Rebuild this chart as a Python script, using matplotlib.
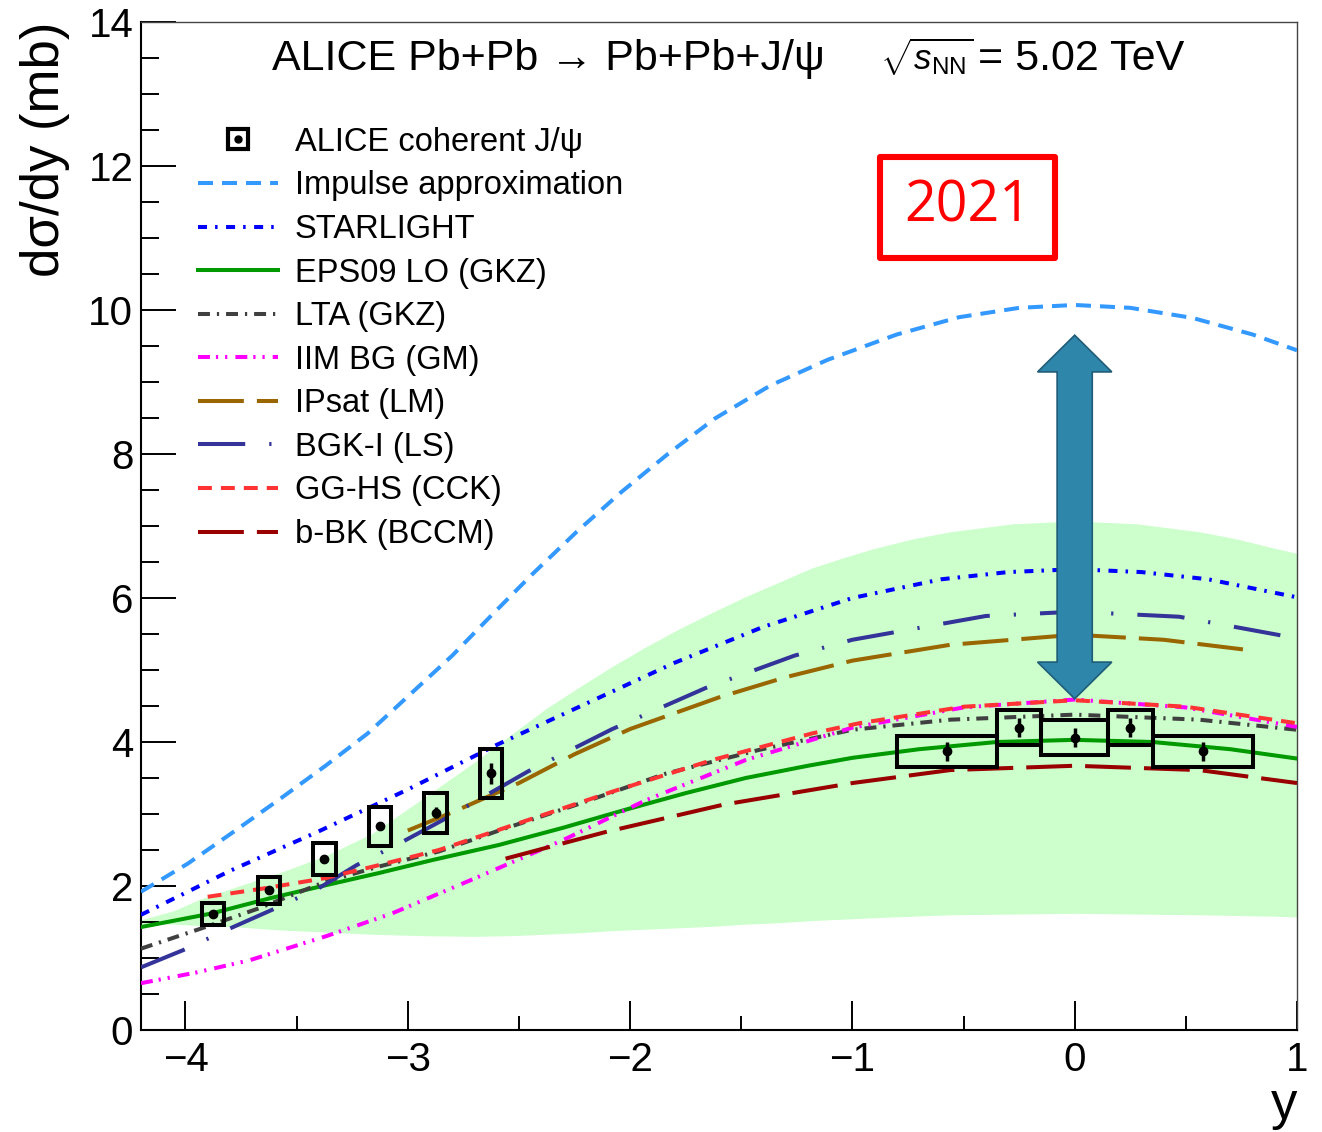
import numpy as np
import matplotlib
matplotlib.use("Agg")
import matplotlib.pyplot as plt
from matplotlib.lines import Line2D
from matplotlib.patches import Rectangle, Polygon
from matplotlib.ticker import MultipleLocator

plt.rcParams['font.family'] = ['Liberation Sans', 'DejaVu Sans']
plt.rcParams['mathtext.fontset'] = 'custom'
plt.rcParams['mathtext.rm'] = 'Liberation Sans'
plt.rcParams['mathtext.it'] = 'Liberation Sans:italic'
plt.rcParams['mathtext.bf'] = 'Liberation Sans:bold'
plt.rcParams['lines.scale_dashes'] = False

# ---------------- data ----------------
# ALICE coherent J/psi (forward)
fwd_y = [-3.875, -3.625, -3.375, -3.125, -2.875, -2.625]
fwd_val = [1.615, 1.938, 2.377, 2.831, 3.018, 3.565]
fwd_stat = [0.05, 0.05, 0.05, 0.06, 0.08, 0.15]
fwd_syst = [0.15, 0.185, 0.225, 0.27, 0.28, 0.34]
fwd_hw = [0.05, 0.05, 0.05, 0.05, 0.05, 0.05]
# ALICE coherent J/psi (central)
cen_y = [-0.575, -0.25, 0.0, 0.25, 0.575]
cen_val = [3.87, 4.20, 4.06, 4.20, 3.87]
cen_stat = [0.13, 0.13, 0.13, 0.13, 0.13]
cen_syst = [0.22, 0.24, 0.245, 0.24, 0.22]
cen_hw = [0.225, 0.10, 0.15, 0.10, 0.225]

# Impulse approximation
ia_x = [-4.2, -3.99, -3.78, -3.57, -3.37, -3.18, -2.99, -2.80, -2.62, -2.44, -2.24, -2.04,
        -1.83, -1.62, -1.37, -1.11, -0.8, -0.52, -0.25, 0.0, 0.25, 0.53, 0.8, 1.0]
ia_v = [1.92, 2.31, 2.76, 3.22, 3.67, 4.12, 4.66, 5.20, 5.77, 6.33, 6.92, 7.47,
        8.00, 8.49, 8.95, 9.31, 9.66, 9.90, 10.03, 10.07, 10.03, 9.89, 9.66, 9.44]
# STARLIGHT
sl_x = [-4.2, -3.8, -3.4, -3.0, -2.6, -2.2, -1.8, -1.4, -1.0, -0.6, -0.3, 0.0, 0.3, 0.6, 1.0]
sl_v = [1.60, 2.21, 2.76, 3.34, 3.96, 4.53, 5.10, 5.60, 6.00, 6.26, 6.36, 6.40, 6.36, 6.26, 6.01]
# EPS09 LO (GKZ)
eps_x = [-4.2, -3.88, -3.62, -3.37, -3.13, -2.89, -2.59, -2.3, -2.02, -1.75, -1.48, -1.2,
         -1.0, -0.7, -0.35, 0.0, 0.35, 0.7, 1.0]
eps_v = [1.43, 1.62, 1.83, 2.01, 2.18, 2.36, 2.57, 2.81, 3.06, 3.29, 3.50, 3.67,
         3.78, 3.90, 4.00, 4.03, 4.00, 3.90, 3.77]
# EPS09 uncertainty band
band_x = [-4.2, -4.05, -3.94, -3.76, -3.58, -3.37, -3.16, -2.93, -2.7, -2.54, -2.38, -2.23,
          -2.08, -1.93, -1.78, -1.63, -1.48, -1.33, -1.18, -1.04, -0.9, -0.73, -0.56,
          -0.28, 0.0, 0.28, 0.56, 0.73, 0.9, 1.0]
band_hi = [1.53, 1.66, 1.81, 2.00, 2.18, 2.42, 2.73, 3.22, 3.72, 4.09, 4.46, 4.76,
           5.05, 5.32, 5.57, 5.80, 6.02, 6.22, 6.42, 6.56, 6.69, 6.82, 6.92,
           7.03, 7.07, 7.03, 6.92, 6.82, 6.69, 6.62]
band_lo = [1.48, 1.47, 1.45, 1.43, 1.39, 1.36, 1.33, 1.31, 1.30, 1.31, 1.33, 1.35,
           1.38, 1.40, 1.42, 1.44, 1.47, 1.49, 1.52, 1.54, 1.56, 1.58, 1.60,
           1.61, 1.62, 1.61, 1.60, 1.59, 1.58, 1.57]
# LTA (GKZ)
lta_x = [-4.2, -3.91, -3.67, -3.37, -3.13, -2.86, -2.59, -2.24, -1.84, -1.42, -1.0, -0.56, 0.0, 0.56, 1.0]
lta_v = [1.13, 1.43, 1.69, 2.06, 2.27, 2.48, 2.77, 3.13, 3.56, 3.89, 4.17, 4.31, 4.38, 4.31, 4.17]
# IIM BG (GM)
iim_x = [-4.2, -3.95, -3.71, -3.37, -3.07, -2.68, -2.30, -1.93, -1.48, -1.0, -0.5, 0.0, 0.5, 1.0]
iim_v = [0.65, 0.80, 0.97, 1.30, 1.62, 2.13, 2.64, 3.19, 3.75, 4.20, 4.48, 4.59, 4.48, 4.21]
# IPsat (LM)
ips_x = [-3.0, -2.81, -2.5, -2.25, -2.0, -1.6, -1.3, -1.0, -0.56, 0.0, 0.4, 0.8]
ips_v = [2.77, 3.01, 3.43, 3.83, 4.18, 4.62, 4.90, 5.13, 5.35, 5.49, 5.42, 5.27]
# BGK-I (LS)
bgk_x = [-4.2, -4.01, -3.80, -3.61, -3.40, -3.23, -3.02, -2.84, -2.46, -2.08, -1.66, -1.26,
         -1.0, -0.4, 0.0, 0.47, 1.0]
bgk_v = [0.87, 1.11, 1.41, 1.67, 1.97, 2.29, 2.62, 2.92, 3.59, 4.18, 4.75, 5.20,
         5.42, 5.75, 5.81, 5.74, 5.44]
# GG-HS (CCK)
cck_x = [-3.90, -3.64, -3.37, -3.13, -2.86, -2.59, -2.08, -1.63, -1.18, -0.97, -0.5, 0.0, 0.5, 1.0]
cck_v = [1.85, 1.97, 2.11, 2.29, 2.50, 2.78, 3.31, 3.75, 4.12, 4.26, 4.49, 4.58, 4.49, 4.26]
# b-BK (BCCM)
bbk_x = [-2.56, -2.11, -1.58, -1.0, -0.56, 0.0, 0.56, 1.0]
bbk_v = [2.38, 2.75, 3.13, 3.43, 3.61, 3.67, 3.61, 3.43]

legend_labels = ["ALICE coherent J/ψ", "Impulse approximation", "STARLIGHT", "EPS09 LO (GKZ)",
                 "LTA (GKZ)", "IIM BG (GM)", "IPsat (LM)", "BGK-I (LS)", "GG-HS (CCK)", "b-BK (BCCM)"]
xticks = [-4, -3, -2, -1, 0, 1]
yticks = [0, 2, 4, 6, 8, 10, 12, 14]

# ---------------- figure ----------------
W, H = 1322, 1132
fig = plt.figure(figsize=(W / 100, H / 100), dpi=100)
ax = fig.add_axes([141 / W, 1 - 1030 / H, 1156 / W, 1008 / H])
ax.set_xlim(-4.2, 1.0)
ax.set_ylim(0, 14)

ax.fill_between(band_x, band_lo, band_hi, color='#ccffcc', lw=0, zorder=1)

LW = 2.9
l_ia, = ax.plot(ia_x, ia_v, color='#3399ff', lw=LW, ls=(0, (10.8, 6.5)), zorder=3)
l_sl, = ax.plot(sl_x, sl_v, color='#0000ff', lw=LW, ls=(0, (6.5, 5.8, 1.8, 6.1)), zorder=3)
l_eps, = ax.plot(eps_x, eps_v, color='#009900', lw=LW, ls='-', zorder=3)
l_lta, = ax.plot(lta_x, lta_v, color='#404040', lw=LW, ls=(0, (8.6, 5.0, 1.6, 5.0)), zorder=3)
l_iim, = ax.plot(iim_x, iim_v, color='#ff00ff', lw=LW, ls=(0, (8.6, 4.3, 1.6, 5.0, 1.6, 5.8)), zorder=3)
l_ips, = ax.plot(ips_x, ips_v, color='#996600', lw=LW, ls=(0, (33, 9.4)), zorder=3)
l_bgk, = ax.plot(bgk_x, bgk_v, color='#333399', lw=LW, ls=(0, (34, 17.3, 1.6, 17.3)), zorder=3)
l_cck, = ax.plot(cck_x, cck_v, color='#ff3333', lw=LW, ls=(0, (10, 6.5)), zorder=3)
l_bbk, = ax.plot(bbk_x, bbk_v, color='#990000', lw=LW, ls=(0, (33, 9.4)), zorder=3)

# data: systematic boxes + points
for xs, vs, st, sy, hw in [(fwd_y, fwd_val, fwd_stat, fwd_syst, fwd_hw),
                           (cen_y, cen_val, cen_stat, cen_syst, cen_hw)]:
    xs = np.array(xs); vs = np.array(vs); sy = np.array(sy); hw = np.array(hw)
    ax.bar(xs, 2 * sy, width=2 * hw, bottom=vs - sy, fill=False, edgecolor='black',
           linewidth=2.9, zorder=5)
    ax.errorbar(xs, vs, yerr=st, fmt='o', color='black', ms=6, elinewidth=2.5,
                capsize=0, zorder=6)

# double arrow
ax_c, a_top, a_bot = 0.0, 9.65, 4.60
shaft_hw, head_hw, head_len = 0.079, 0.167, 0.51
arrow_pts = [(ax_c, a_top), (ax_c + head_hw, a_top - head_len), (ax_c + shaft_hw, a_top - head_len),
             (ax_c + shaft_hw, a_bot + head_len), (ax_c + head_hw, a_bot + head_len), (ax_c, a_bot),
             (ax_c - head_hw, a_bot + head_len), (ax_c - shaft_hw, a_bot + head_len),
             (ax_c - shaft_hw, a_top - head_len), (ax_c - head_hw, a_top - head_len)]
ax.add_patch(Polygon(arrow_pts, closed=True, facecolor='#2e86ab', edgecolor='#1f5c78',
                     lw=1.2, zorder=8))

# ticks & spines
ax.set_xticks(xticks)
ax.set_yticks(yticks)
ax.xaxis.set_minor_locator(MultipleLocator(0.5))
ax.yaxis.set_minor_locator(MultipleLocator(0.5))
ax.tick_params(axis='both', which='both', direction='in', top=False, right=False, width=1.4)
ax.tick_params(axis='y', which='major', length=25, labelsize=29, pad=5.5)
ax.tick_params(axis='y', which='minor', length=13)
ax.tick_params(axis='x', which='major', length=21, labelsize=29, pad=8)
ax.tick_params(axis='x', which='minor', length=10)
for s in ['left', 'bottom']:
    ax.spines[s].set_linewidth(1.5)
for s in ['top', 'right']:
    ax.spines[s].set_linewidth(1.0)
    ax.spines[s].set_color('#444444')

ax.set_ylabel("dσ/dy (mb)", fontsize=38, loc='top')
ax.yaxis.set_label_coords(-0.0614, 1.0)
ax.set_xlabel("y", fontsize=38, loc='right')
ax.xaxis.set_label_coords(1.0, -0.050)

# title texts
ax.text((272 - 141) / 1156, 0.9524, "ALICE Pb+Pb → Pb+Pb+J/ψ", fontsize=31,
        transform=ax.transAxes, ha='left', va='baseline')
ax.text((880 - 141) / 1156, 0.9524, r"$\sqrt{s_{\mathrm{NN}}}$", fontsize=25,
        transform=ax.transAxes, ha='left', va='baseline')
ax.text((978 - 141) / 1156, 0.9524, "= 5.02 TeV", fontsize=31,
        transform=ax.transAxes, ha='left', va='baseline')

# legend
h_data = (Line2D([], [], ls='none', marker='s', ms=14, mfc='none', mec='black', mew=3),
          Line2D([], [], ls='none', marker='o', ms=5, color='black'))
handles = [h_data, l_ia, l_sl, l_eps, l_lta, l_iim, l_ips, l_bgk, l_cck, l_bbk]
ax.legend(handles, legend_labels, loc='upper left', bbox_to_anchor=(0.049, 0.896),
          frameon=False, fontsize=23.5, handlelength=2.45, handletextpad=0.52,
          labelspacing=0.385, borderpad=0, borderaxespad=0)

# 2021 box
fig.patches.append(Rectangle((880 / W, 1 - 258 / H), 175 / W, 101 / H, transform=fig.transFigure,
                             fill=False, edgecolor='#ff0000', lw=4.4, joinstyle='round', zorder=10))
fig.text(967.5 / W, 1 - 207.5 / H, "2021", color='#ff0000', fontsize=40, family='Open Sans',
         ha='center', va='center')

fig.savefig("out.png", dpi=100)
